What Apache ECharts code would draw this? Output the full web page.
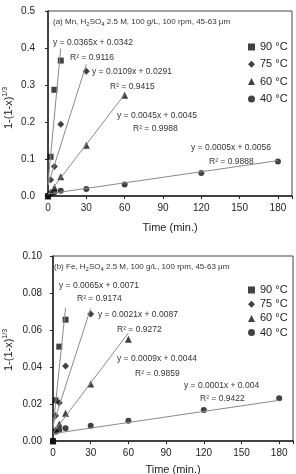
<!DOCTYPE html>
<html>
<head>
<meta charset="utf-8">
<script src="https://cdn.jsdelivr.net/npm/echarts@6/dist/echarts.min.js"></script>
<style>
  html, body { margin: 0; padding: 0; background: #fff; }
  #chart { width: 296px; height: 474px; }
</style>
</head>
<body>
<div id="chart"></div>
<script>
// sampling times (min.)
const times = [0, 2, 5, 10, 30, 60, 120, 180]
const tempNames = ['90 °C', '75 °C', '60 °C', '40 °C']

// (a) Mn, 1-(1-x)^(1/3) per temperature
const mn90 = [0, 0.106, 0.287, 0.366]
const mn75 = [0, 0.044, 0.080, 0.194, 0.337]
const mn60 = [0, 0.010, 0.023, 0.052, 0.137, 0.272]
const mn40 = [0, 0.007, 0.010, 0.014, 0.019, 0.031, 0.062, 0.093]

// (b) Fe
const fe90 = [0, 0.022, 0.051, 0.0656]
const fe75 = [0, 0.0137, 0.0207, 0.0405, 0.0686]
const fe60 = [0, 0.006, 0.0092, 0.015, 0.0308, 0.055]
const fe40 = [0, 0.005, 0.006, 0.0069, 0.0083, 0.011, 0.0168, 0.0231]

// linear trendline end points [t, y]
const mnTrend = [
  [[0, 0.0342], [10, 0.399]],
  [[0, 0.0291], [30, 0.356]],
  [[0, 0.0045], [60, 0.2745]],
  [[0, 0.0056], [180, 0.0956]],
]
const feTrend = [
  [[0, 0.0071], [10, 0.072]],
  [[0, 0.0087], [30, 0.0717]],
  [[0, 0.0044], [60, 0.0584]],
  [[0, 0.004], [180, 0.022]],
]

// equation labels: text, left, middle
const mnLabels = [
  ['y = 0.0365x + 0.0342', 53, 43],
  ['R² = 0.9116', 70, 58],
  ['y = 0.0109x + 0.0291', 92, 72],
  ['R² = 0.9415', 110, 87],
  ['y = 0.0045x + 0.0045', 117, 116],
  ['R² = 0.9988', 133, 129],
  ['y = 0.0005x + 0.0056', 191, 148],
  ['R² = 0.9888', 209, 162],
]
const feLabels = [
  ['y = 0.0065x + 0.0071', 59, 286],
  ['R² = 0.9174', 77, 299],
  ['y = 0.0021x + 0.0087', 98, 315],
  ['R² = 0.9272', 117, 330],
  ['y = 0.0009x + 0.0044', 117, 359],
  ['R² = 0.9859', 135, 374],
  ['y = 0.0001x + 0.004', 184, 386],
  ['R² = 0.9422', 200, 399],
]

const symbols = ['rect', 'diamond', 'triangle', 'circle']
const symbolSizes = [6, 7, 7, 6]
const font = 'Liberation Sans, Arial, sans-serif'
const ink = '#222'

function pairs(vals) {
  return vals.map((v, i) => [times[i], v])
}

function xAxisFor(gridIndex, gap) {
  return {
    gridIndex,
    type: 'value',
    min: 0,
    max: 191,
    interval: 30,
    name: 'Time (min.)',
    nameLocation: 'middle',
    nameGap: gap,
    nameTextStyle: { fontSize: 11, color: ink, fontFamily: font },
    axisLine: { lineStyle: { color: ink, width: 1.5 } },
    axisTick: { length: 3, lineStyle: { color: ink } },
    splitLine: { show: false },
    axisLabel: {
      fontSize: 10, color: ink, fontFamily: font, margin: 7,
      formatter: v => (v % 30 === 0 ? String(v) : ''),
    },
  }
}

function yAxisFor(gridIndex, max, interval, digits) {
  return {
    gridIndex,
    type: 'value',
    min: 0,
    max,
    interval,
    axisLine: { show: true, lineStyle: { color: ink, width: 1.5 } },
    axisTick: { show: true, length: 3, lineStyle: { color: ink } },
    splitLine: { show: false },
    axisLabel: {
      fontSize: 10, color: ink, fontFamily: font, margin: 13 - gridIndex * 2,
      formatter: v => v.toFixed(digits),
    },
  }
}

const mnSets = [mn90, mn75, mn60, mn40]
const feSets = [fe90, fe75, fe60, fe40]

const series = []
;[[mnSets, mnTrend], [feSets, feTrend]].forEach(([sets, trends], g) => {
  trends.forEach(line => {
    series.push({
      type: 'line', xAxisIndex: g, yAxisIndex: g,
      data: line, symbol: 'none', silent: true,
      lineStyle: { color: '#8a8a8a', width: 1 },
    })
  })
  sets.forEach((vals, i) => {
    series.push({
      name: tempNames[i], type: 'scatter', xAxisIndex: g, yAxisIndex: g,
      data: pairs(vals), symbol: symbols[i], symbolSize: symbolSizes[i],
      itemStyle: { color: '#111' },
    })
  })
})

function eqTexts(labels) {
  return labels.map(([text, x, y]) => ({
    type: 'text', left: x, top: y - 5,
    style: { text, fontSize: 8.5, fill: '#333', fontFamily: font },
  }))
}

function titleText(text, x, y) {
  return {
    type: 'text', left: x, top: y - 5,
    style: {
      text, fontSize: 8, fill: '#333', fontFamily: font,
      rich: { s: { fontSize: 6, fill: '#333', fontFamily: font, padding: [4, 0, 0, 0] } },
    },
  }
}

// rotated y-axis title, 1-(1-x)^(1/3)
function yTitle(cy) {
  return {
    type: 'text', x: 9, y: cy, rotation: Math.PI / 2,
    style: {
      text: '1-(1-x){sup|1/3}', fontSize: 11, fill: ink, fontFamily: font,
      align: 'center', verticalAlign: 'middle',
      rich: { sup: { fontSize: 7, fill: ink, fontFamily: font, padding: [0, 0, 7, 0] } },
    },
  }
}

function legendAt(top, gap) {
  return {
    orient: 'vertical', left: 243, top,
    itemWidth: 7, itemHeight: 7, itemGap: gap,
    data: tempNames,
    textStyle: { fontSize: 11, color: ink, fontFamily: font, lineHeight: 14 },
    selectedMode: false,
  }
}

const gridBase = { show: true, borderColor: '#444', borderWidth: 1, containLabel: false, outerBoundsMode: 'none' }

const myChart = echarts.init(document.getElementById('chart'), null, { renderer: 'canvas' })
const option = {
  backgroundColor: '#fff',
  animation: false,
  textStyle: { fontFamily: font },
  grid: [
    { ...gridBase, left: 48, top: 11, width: 244, height: 185 },
    { ...gridBase, left: 53, top: 256, width: 240, height: 185 },
  ],
  legend: [legendAt(35, 3.3), legendAt(278, 0.2)],
  xAxis: [xAxisFor(0, 26), xAxisFor(1, 23)],
  yAxis: [yAxisFor(0, 0.5, 0.1, 1), yAxisFor(1, 0.1, 0.02, 2)],
  series,
  graphic: [
    yTitle(108),
    yTitle(350),
    titleText('(a) Mn, H{s|2}SO{s|4} 2.5 M, 100 g/L, 100 rpm, 45-63 μm', 53, 23),
    titleText('(b) Fe, H{s|2}SO{s|4} 2.5 M, 100 g/L, 100 rpm, 45-63 μm', 54, 268),
    ...eqTexts(mnLabels),
    ...eqTexts(feLabels),
  ],
}
myChart.setOption(option, true)
</script>
</body>
</html>
